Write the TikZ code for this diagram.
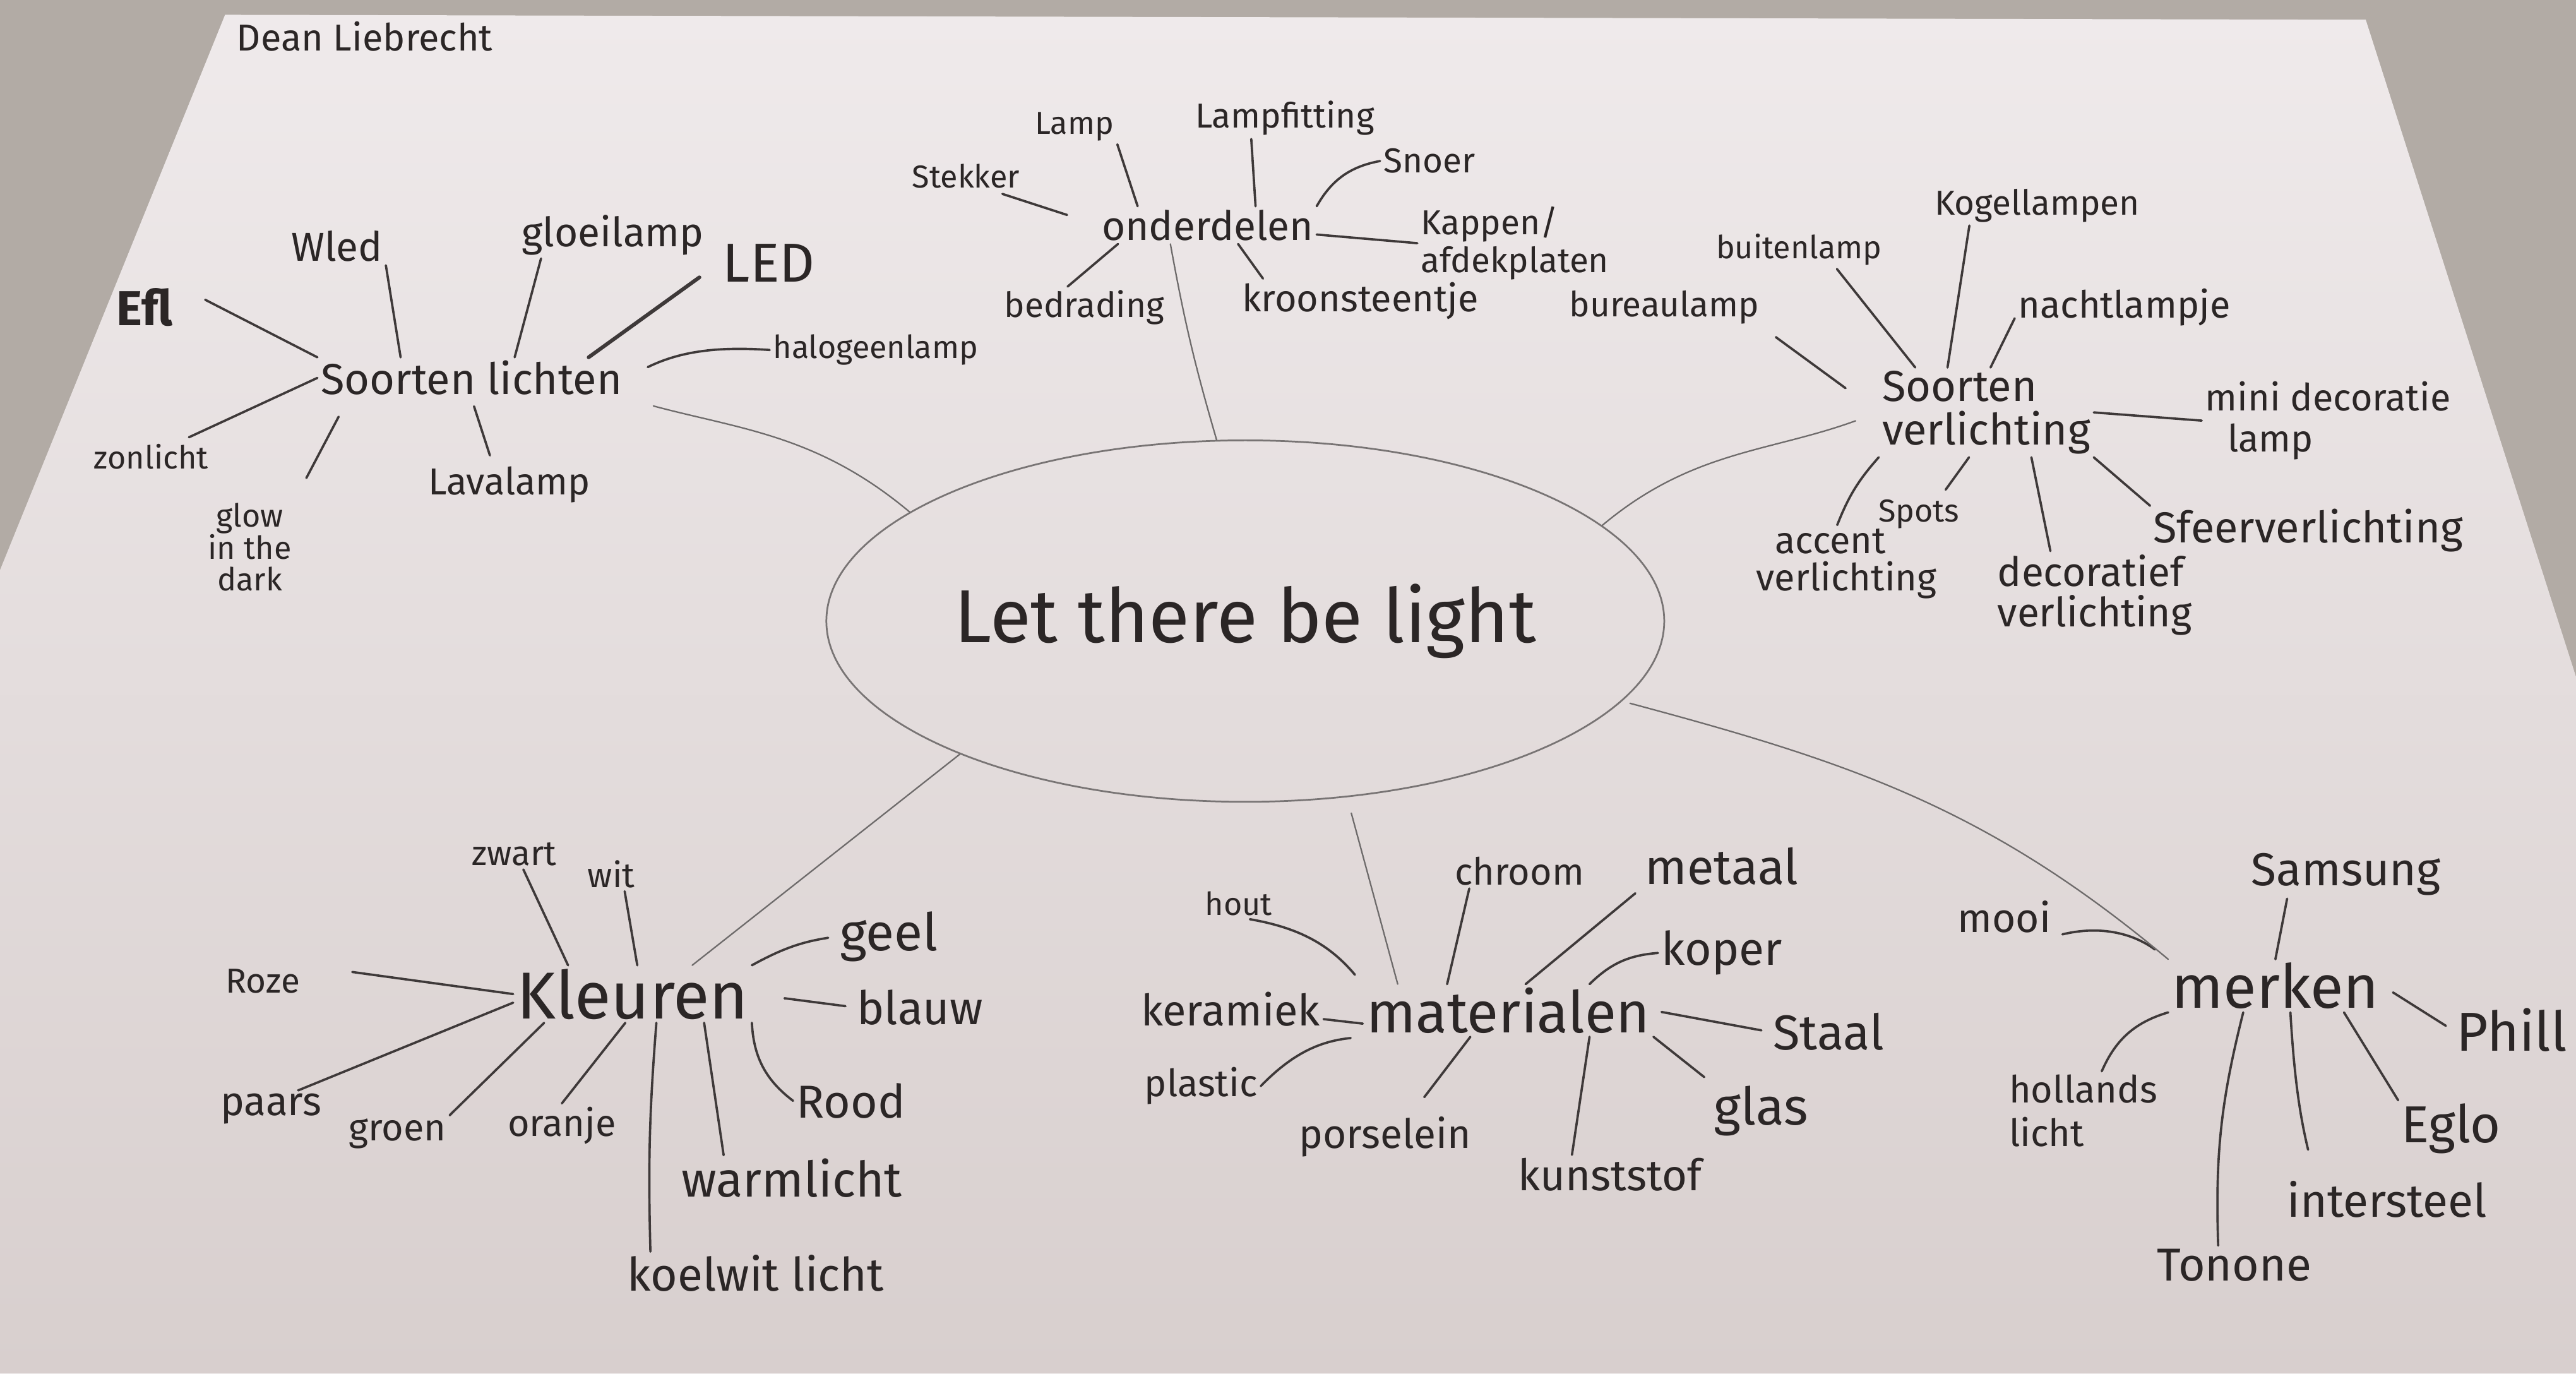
\documentclass[tikz,border=0pt]{standalone}
\usepackage{fontspec}
\setmainfont{Fira Sans}
\usetikzlibrary{calc, shapes.geometric}
\definecolor{ink}{HTML}{2B2626}
\definecolor{pencil}{HTML}{3E3939}
\definecolor{tablegrey}{HTML}{B2ABA5}
\definecolor{papertop}{HTML}{EFEAEB}
\definecolor{paperbot}{HTML}{D8CFCE}

\tikzset{
  lf/.style={text=ink, inner sep=1pt, font=\fontsize{#1}{#1}\selectfont},
  lf/.default=13,
  twig/.style={draw=pencil, line width=0.8pt, line cap=round},
  branch/.style={draw=pencil!75, line width=0.5pt, line cap=round},
}

\begin{document}
\begin{tikzpicture}[x=0.2mm, y=0.2mm]
  \useasboundingbox (0,-836) rectangle (1568,0);
  \clip (0,-836) rectangle (1568,0);
  % table and sheet
  \fill[tablegrey] (0,-836) rectangle (1568,0);
  \shade[top color=papertop, bottom color=paperbot] (137,-9) -- (1440,-12) -- (1568,-412) -- (1568,-836) -- (0,-836) -- (0,-347) -- cycle;

  \node[lf=13] (dean) at (222,-22) {Dean Liebrecht};

  % centre
  \node[ellipse, draw=pencil!70, line width=0.6pt, minimum width=102mm, minimum height=44mm,
        inner sep=0pt, text=ink, font=\fontsize{26}{26}\selectfont] (core) at (758,-378) {Let there be light};

  % soorten lichten
  \node[lf=15] (lichten) at (287,-230) {Soorten lichten};
  \node[lf=17] (efl) at (88,-187) {\bfseries Efl};
  \node[lf=14] (wled) at (205,-150) {Wled};
  \node[lf=14] (gloei) at (373,-143) {gloeilamp};
  \node[lf=19] (led) at (468,-160) {LED};
  \node[lf=11] (halogeen) at (533,-213) {halogeenlamp};
  \node[lf=11] (zon) at (92,-278) {zonlicht};
  \node[lf=11, align=center] (glow) at (152,-333) {glow\\in the\\dark};
  \node[lf=13] (lava) at (310,-295) {Lavalamp};
  \draw[twig, shorten >=4mm] (lichten.north west) -- (efl.north east);
  \draw[twig] ($(lichten.north west)!.27!(lichten.north east)$) -- (wled.south east);
  \draw[twig] ($(lichten.north west)!.64!(lichten.north east)$) -- ($(gloei.south west)!.12!(gloei.south east)$);
  \draw[twig, line width=1.3pt, shorten >=3mm] ($(lichten.north west)!.88!(lichten.north east)$) -- (led.west);
  \draw[twig, shorten <=3mm] (lichten.east) to[bend left=15] (halogeen.west);
  \draw[twig, shorten >=1mm] (lichten.west) -- ($(zon.north)!.5!(zon.north east)$);
  \draw[twig, shorten <=2.5mm, shorten >=3mm] ($(lichten.south west)!.1!(lichten.south east)$) -- (glow.north east);
  \draw[twig, shorten <=1mm, shorten >=1mm] (lichten.south) -- ($(lava.north west)!.4!(lava.north east)$);
  \draw[branch, shorten <=3.5mm] (lichten.south east) to[out=-15, in=140] (core.162);

  % onderdelen
  \node[lf=14] (onder) at (735,-137) {onderdelen};
  \node[lf=11] (stekker) at (588,-107) {Stekker};
  \node[lf=11] (lamp) at (654,-77) {Lamp};
  \node[lf=12] (fitting) at (782,-72) {Lampfitting};
  \node[lf=12] (snoer) at (870,-98) {Snoer};
  \node[lf=12, align=left] (kappen) at (922,-148) {Kappen/\\[1pt]afdekplaten};
  \node[lf=12] (bedrading) at (660,-187) {bedrading};
  \node[lf=13] (kroon) at (828,-183) {kroonsteentje};
  \draw[twig, shorten <=4mm, shorten >=1mm] (onder.west) -- ($(stekker.south)!.5!(stekker.south east)$);
  \draw[twig] ($(onder.north west)!.18!(onder.north east)$) -- (lamp.south east);
  \draw[twig] ($(onder.north west)!.72!(onder.north east)$) -- ($(fitting.south west)!.32!(fitting.south east)$);
  \draw[twig] (onder.north east) to[bend left=25] (snoer.west);
  \draw[twig] ($(onder.east)!.5!(onder.south east)$) -- (kappen.west);
  \draw[twig] ($(onder.south west)!.09!(onder.south east)$) -- ($(bedrading.north west)!.4!(bedrading.north east)$);
  \draw[twig] ($(onder.south west)!.64!(onder.south east)$) -- ($(kroon.north west)!.1!(kroon.north east)$);
  \draw[branch] ($(onder.south west)!.33!(onder.south east)$) to[bend right=3] (core.99);

  % soorten verlichting
  \node[lf=15, align=left] (verl) at (1209,-251) {Soorten\\verlichting};
  \node[lf=12] (bureau) at (1013,-187) {bureaulamp};
  \node[lf=11] (buiten) at (1095,-152) {buitenlamp};
  \node[lf=12] (kogel) at (1240,-125) {Kogellampen};
  \node[lf=13] (nacht) at (1293,-187) {nachtlampje};
  \node[lf=13, align=left] (mini) at (1417,-256) {mini decoratie\\[1pt]\hspace{0.6em}lamp};
  \node[lf=11] (spots) at (1168,-313) {Spots};
  \node[lf=13, align=left] (accent) at (1124,-343) {\hspace{0.5em}accent\\verlichting};
  \node[lf=14, align=left] (decor) at (1275,-362) {decoratief\\verlichting};
  \node[lf=15] (sfeer) at (1405,-323) {Sfeerverlichting};
  \draw[twig, shorten <=5mm, shorten >=2mm] (verl.west) -- (bureau.south east);
  \draw[twig] ($(verl.north west)!.17!(verl.north east)$) -- ($(buiten.south west)!.72!(buiten.south east)$);
  \draw[twig] ($(verl.north west)!.32!(verl.north east)$) -- ($(kogel.south west)!.18!(kogel.south east)$);
  \draw[twig] ($(verl.north west)!.52!(verl.north east)$) -- ($(nacht.west)!.5!(nacht.south west)$);
  \draw[twig] (verl.east) -- (mini.west);
  \draw[twig, shorten >=1mm] ($(verl.south west)!.42!(verl.south east)$) -- ($(spots.north)!.5!(spots.north east)$);
  \draw[twig] (verl.south west) to[bend right=10] ($(accent.north west)!.45!(accent.north east)$);
  \draw[twig] ($(verl.south west)!.71!(verl.south east)$) -- ($(decor.north west)!.28!(decor.north east)$);
  \draw[twig] (verl.south east) -- (sfeer.north west);
  \draw[branch, shorten <=3mm] (verl.west) to[out=200, in=40] (core.15);

  % kleuren
  \node[lf=23] (kleur) at (385,-605) {Kleuren};
  \node[lf=12] (zwart) at (313,-520) {zwart};
  \node[lf=12] (wit) at (372,-532) {wit};
  \node[lf=18] (geel) at (541,-570) {geel};
  \node[lf=16] (blauw) at (560,-613) {blauw};
  \node[lf=12] (roze) at (160,-597) {Roze};
  \node[lf=14] (paars) at (165,-675) {paars};
  \node[lf=13] (groen) at (242,-690) {groen};
  \node[lf=13] (oranje) at (342,-685) {oranje};
  \node[lf=16] (rood) at (518,-670) {Rood};
  \node[lf=17] (warm) at (482,-717) {warmlicht};
  \node[lf=16] (koel) at (460,-775) {koelwit licht};
  \draw[twig] ($(kleur.north west)!.23!(kleur.north east)$) -- ($(zwart.south west)!.6!(zwart.south east)$);
  \draw[twig] ($(kleur.north west)!.52!(kleur.north east)$) -- ($(wit.south)!.5!(wit.south east)$);
  \draw[twig, shorten >=1mm] (kleur.north east) to[bend left=10] (geel.west);
  \draw[twig, shorten <=4mm, shorten >=1mm] (kleur.east) -- (blauw.west);
  \draw[twig, shorten >=6mm] (kleur.west) -- (roze.north east);
  \draw[twig] ($(kleur.west)!.3!(kleur.south west)$) -- ($(paars.north)!.5!(paars.north east)$);
  \draw[twig] ($(kleur.south west)!.13!(kleur.south east)$) -- (groen.north east);
  \draw[twig] ($(kleur.south west)!.47!(kleur.south east)$) -- (oranje.north);
  \draw[twig] ($(kleur.south west)!.6!(kleur.south east)$) to[bend right=3] ($(koel.north west)!.1!(koel.north east)$);
  \draw[twig] ($(kleur.south west)!.8!(kleur.south east)$) -- ($(warm.north west)!.2!(warm.north east)$);
  \draw[twig] (kleur.south east) to[bend right=25] (rood.west);
  \draw[branch] ($(kleur.north west)!.75!(kleur.north east)$) -- (core.205);

  % materialen
  \node[lf=20] (mater) at (918,-615) {materialen};
  \node[lf=15] (keramiek) at (749,-614) {keramiek};
  \node[lf=11] (hout) at (754,-550) {hout};
  \node[lf=13] (chroom) at (925,-530) {chroom};
  \node[lf=17] (metaal) at (1048,-527) {metaal};
  \node[lf=16] (koper) at (1048,-580) {koper};
  \node[lf=17] (staal) at (1113,-628) {Staal};
  \node[lf=18] (glas) at (1072,-676) {glas};
  \node[lf=15] (kunst) at (980,-715) {kunststof};
  \node[lf=14] (porselein) at (843,-692) {porselein};
  \node[lf=13] (plastic) at (731,-661) {plastic};
  \draw[twig] ($(mater.west)!.5!(mater.south west)$) -- ($(keramiek.east)!.5!(keramiek.south east)$);
  \draw[twig, shorten <=1.5mm] (mater.north west) to[bend right=20] ($(hout.south)!.3!(hout.south east)$);
  \draw[twig] ($(mater.north west)!.29!(mater.north east)$) -- ($(chroom.south west)!.13!(chroom.south east)$);
  \draw[twig, shorten >=1mm] ($(mater.north west)!.56!(mater.north east)$) -- (metaal.south west);
  \draw[twig] ($(mater.north west)!.78!(mater.north east)$) to[bend left=20] (koper.west);
  \draw[twig, shorten <=1mm, shorten >=1mm] (mater.east) -- (staal.west);
  \draw[twig, shorten >=1mm] (mater.south east) -- (glas.north west);
  \draw[twig] ($(mater.south west)!.78!(mater.south east)$) -- ($(kunst.north west)!.3!(kunst.north east)$);
  \draw[twig, shorten >=2.5mm] ($(mater.south west)!.37!(mater.south east)$) -- ($(porselein.north)!.3!(porselein.north east)$);
  \draw[twig, shorten <=1.5mm] (mater.south west) to[bend right=20] (plastic.east);
  \draw[branch, shorten <=2mm] (core.300) -- ($(mater.north west)!.12!(mater.north east)$);

  % merken
  \node[lf=21] (merk) at (1385,-600) {merken};
  \node[lf=16] (samsung) at (1428,-532) {Samsung};
  \node[lf=14] (mooi) at (1220,-558) {mooi};
  \node[lf=19, anchor=west] (phil) at (1493,-627) {Phill};
  \node[lf=13, align=left] (hollands) at (1268,-676) {hollands\\[2pt]licht};
  \node[lf=18] (eglo) at (1492,-687) {Eglo};
  \node[lf=16] (inter) at (1453,-730) {intersteel};
  \node[lf=16] (tonone) at (1360,-770) {Tonone};
  \draw[twig] (merk.north) -- ($(samsung.south west)!.2!(samsung.south east)$);
  \draw[twig, shorten <=2mm, shorten >=1mm] (merk.north west) to[bend right=25] (mooi.south east);
  \draw[twig, shorten <=1.5mm, shorten >=1mm] (merk.east) -- (phil.west);
  \draw[twig] (merk.south west) to[bend right=25] ($(hollands.north west)!.62!(hollands.north east)$);
  \draw[twig] ($(merk.south west)!.35!(merk.south east)$) to[bend right=8] ($(tonone.north)!.2!(tonone.north west)$);
  \draw[twig, shorten >=3.5mm] ($(merk.south west)!.57!(merk.south east)$) to[bend right=5] ($(inter.north west)!.15!(inter.north east)$);
  \draw[twig] ($(merk.south west)!.82!(merk.south east)$) -- (eglo.north west);
  \draw[branch, shorten <=1mm] (core.-12) to[out=-15, in=140] (merk.north west);
\end{tikzpicture}
\end{document}
